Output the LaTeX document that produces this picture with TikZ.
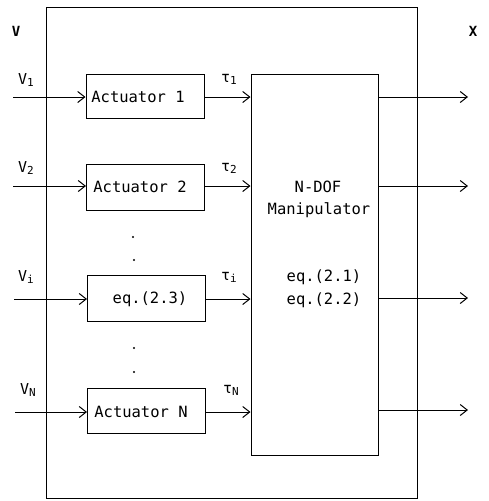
\documentclass[tikz,border=0pt]{standalone}
\usepackage{fontspec}
\setmonofont{DejaVu Sans Mono}
\usetikzlibrary{arrows.meta}
\newcommand{\sbs}[1]{\raisebox{-2pt}{\fontsize{11}{11}\selectfont #1}}
\begin{document}
\begin{tikzpicture}[x=1pt,y=-1pt,
  ln/.style={line width=1pt,draw=black},
  arr/.style={ln,-{Straight Barb[length=7pt,width=11pt,line width=1pt]}},
  box/.style={ln,rectangle,inner sep=0pt},
  txt/.style={font=\ttfamily\fontsize{15.5}{18}\selectfont,inner sep=0pt},
  lab/.style={font=\ttfamily\fontsize{15}{18}\selectfont,inner sep=0pt},
  dotm/.style={circle,fill=black,inner sep=0pt,minimum size=2.2pt}]
\useasboundingbox (0,0) rectangle (489,501);
% outer box
\node[box,minimum width=371pt,minimum height=491pt] (outer) at (231.5,252.5) {};
% actuator boxes
\node[box,minimum width=118pt,minimum height=44pt] (a1) at (145,96) {};
\node[box,minimum width=118pt,minimum height=46pt] (a2) at (145.5,187) {};
\node[box,minimum width=118pt,minimum height=46pt] (ai) at (146.5,298) {};
\node[box,minimum width=118pt,minimum height=45pt] (an) at (146.5,410.5) {};
\node[txt] (t1) at (138,97) {Actuator 1};
\node[txt] (t2) at (140,187) {Actuator 2};
\node[txt] (ti) at (150,299) {eq.(2.3)};
\node[txt] (tn) at (141,412) {Actuator N};
% manipulator
\node[box,minimum width=127pt,minimum height=381pt] (m) at (314.5,264.5) {};
\node[txt] (m1) at (318,187) {N-DOF};
\node[txt] (m2) at (319,210) {Manipulator};
\node[txt] (m3) at (324,277) {eq.(2.1)};
\node[txt] (m4) at (324,300) {eq.(2.2)};
% labels
\node[lab,font=\ttfamily\bfseries\fontsize{14}{16}\selectfont] (lv) at (16,31) {V};
\node[lab,font=\ttfamily\bfseries\fontsize{14}{16}\selectfont] (lx) at (473,31) {X};
\node[lab] (v1) at (26,80) {V\sbs{1}};
\node[lab] (v2) at (26,168) {V\sbs{2}};
\node[lab] (vi) at (26,277) {V\sbs{i}};
\node[lab] (vn) at (28,390) {V\sbs{N}};
\node[lab] (u1) at (229,79) {τ\sbs{1}};
\node[lab] (u2) at (229,168) {τ\sbs{2}};
\node[lab] (ui) at (229,277) {τ\sbs{i}};
\node[lab] (un) at (231,390) {τ\sbs{N}};
% dots
\node[dotm] (d1) at (133,237) {};
\node[dotm] (d2) at (134,260) {};
\node[dotm] (d3) at (134,348) {};
\node[dotm] (d4) at (134,372) {};
% input arrows
\coordinate (s1) at (13,97);
\coordinate (s2) at (13,186);
\coordinate (si) at (14,299);
\coordinate (sn) at (15,412);
\draw[arr] (s1) -- (s1 -| a1.west);
\draw[arr] (s2) -- (s2 -| a2.west);
\draw[arr] (si) -- (si -| ai.west);
\draw[arr] (sn) -- (sn -| an.west);
% actuator to manipulator
\draw[arr] (a1.east |- s1) -- (m.west |- s1);
\draw[arr] (a2.east |- s2) -- (m.west |- s2);
\draw[arr] (ai.east |- si) -- (m.west |- si);
\draw[arr] (an.east |- sn) -- (m.west |- sn);
% outputs
\coordinate (o1) at (468,97);
\coordinate (o2) at (468,186);
\coordinate (oi) at (468,298);
\coordinate (on) at (468,410);
\draw[arr] (m.east |- o1) -- (o1);
\draw[arr] (m.east |- o2) -- (o2);
\draw[arr] (m.east |- oi) -- (oi);
\draw[arr] (m.east |- on) -- (on);
\end{tikzpicture}
\end{document}
